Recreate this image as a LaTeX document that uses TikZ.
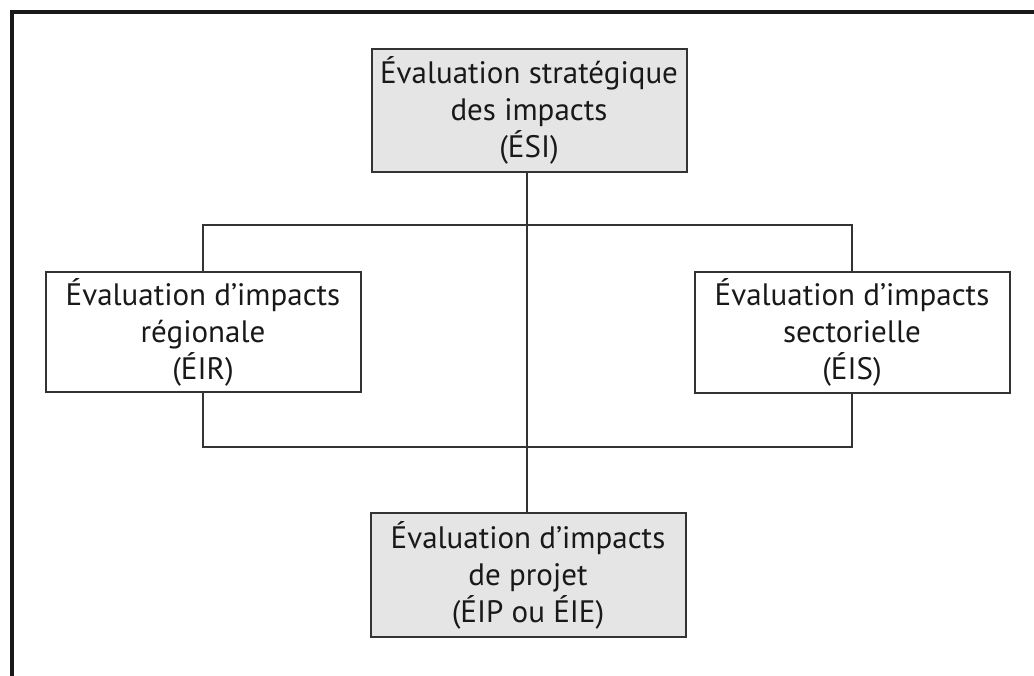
\documentclass[tikz,border=0pt]{standalone}
\usepackage{fontspec}
\setmainfont{PT Sans}
\begin{document}
\begin{tikzpicture}[x=1pt,y=-1pt,
  box/.style={draw=black!80, line width=2pt, minimum width=315pt, align=center,
    font=\fontsize{31}{37}\selectfont, text=black!90, inner sep=0pt},
  grey/.style={box, fill=black!10},
  conn/.style={draw=black!80, line width=2pt}]
\useasboundingbox (0,0) rectangle (1034,676);
\fill[white] (0,0) rectangle (1034,676);
\draw[line width=3.5pt, black!90] (12,690) -- (12,12) -- (1045,12);
\node[grey, minimum height=123pt] (esi) at (529,110.5) {Évaluation stratégique\\des impacts\\(ÉSI)};
\node[box, minimum height=120pt] (eir) at (203,332) {Évaluation d’impacts\\régionale\\(ÉIR)};
\node[box, minimum height=121pt] (eis) at (852,332.5) {Évaluation d’impacts\\sectorielle\\(ÉIS)};
\node[grey, minimum height=124pt] (eip) at (528,575) {Évaluation d’impacts\\de projet\\(ÉIP ou ÉIE)};
\coordinate (tj) at (527,225);
\coordinate (bj) at (527,447);
\draw[conn] (esi.south -| tj) -- (eip.north -| tj);
\draw[conn] (eir.north) |- (tj) -| (eis.north);
\draw[conn] (eir.south) |- (bj) -| (eis.south);
\end{tikzpicture}
\end{document}
